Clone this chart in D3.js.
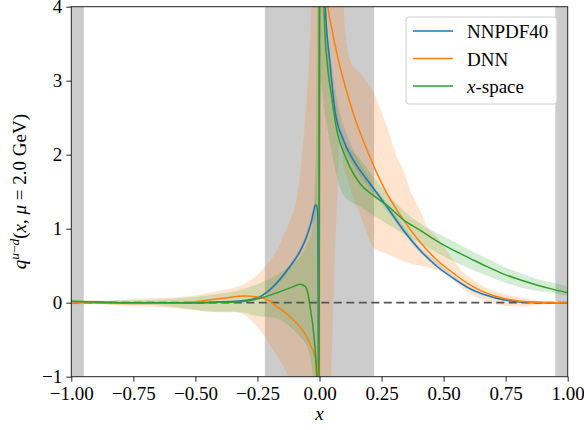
<!DOCTYPE html>
<html>
<head>
<meta charset="utf-8">
<script src="https://cdn.jsdelivr.net/npm/d3@7"></script>
<style>
  body { margin: 0; background: #fff; }
  svg text { font-family: "Liberation Serif", "Times New Roman", "DejaVu Serif", serif; fill: #000; }
</style>
</head>
<body>
<div id="chart"></div>
<script>
// grey excluded regions
const greyStart = [-1, -0.22, 0.95];
const greyEnd = [-0.95, 0.22, 1];

// NNPDF40 central line
const nnX = [-1, -0.9, -0.75, -0.6, -0.5, -0.4, -0.3, -0.24, -0.186, -0.119, -0.079, -0.052, -0.031, -0.018, -0.012, -0.007, -0.002,
  0.002, 0.012, 0.022, 0.042, 0.062, 0.096, 0.136, 0.203, 0.271, 0.338, 0.405, 0.47, 0.539, 0.606, 0.673, 0.74, 0.808, 0.875, 0.95, 1];
const nnY = [0.01, 0.005, 0.0, 0.0, 0.0, 0.01, 0.03, 0.08, 0.22, 0.49, 0.69, 0.89, 1.12, 1.31, 1.32, 1.2, -3,
  10, 5.5, 4.09, 3.25, 2.6, 2.2, 1.93, 1.61, 1.30, 0.98, 0.71, 0.5, 0.33, 0.19, 0.10, 0.04, 0.01, 0.0, 0.0, 0.0];

// NNPDF40 band
const nnBandX = [-1, -0.5, -0.3, -0.2, -0.12, -0.06, -0.03, -0.015, 0.015, 0.03, 0.05, 0.08, 0.12, 0.2, 0.3, 0.4, 0.5, 0.6, 0.7, 0.8, 0.9, 1];
const nnBandHi = [0.02, 0.01, 0.04, 0.2, 0.52, 0.88, 1.2, 1.4, 6, 3.8, 3.2, 2.6, 2.2, 1.68, 1.22, 0.77, 0.48, 0.22, 0.08, 0.02, 0.005, 0.0];
const nnBandLo = [0.0, -0.01, 0.02, 0.15, 0.46, 0.78, 1.05, 1.2, 5, 3.4, 2.85, 2.25, 1.95, 1.56, 1.12, 0.69, 0.42, 0.18, 0.06, 0.0, -0.005, 0.0];

// DNN central line
const dnnX = [-1, -0.9, -0.75, -0.6, -0.5, -0.45, -0.388, -0.3, -0.24, -0.2, -0.186, -0.15, -0.119, -0.08, -0.052, -0.03, -0.018, -0.01, -0.005, -0.001,
  0.001, 0.015, 0.031, 0.05, 0.076, 0.11, 0.136, 0.203, 0.271, 0.338, 0.405, 0.472, 0.539, 0.606, 0.673, 0.74, 0.808, 0.875, 0.95, 1];
const dnnY = [0.0, -0.005, -0.01, -0.005, 0.013, 0.035, 0.06, 0.09, 0.07, 0.02, -0.02, -0.1, -0.19, -0.32, -0.46, -0.62, -0.73, -0.85, -1.1, -4,
  12, 5.5, 4.09, 3.7, 3.28, 2.85, 2.56, 1.97, 1.48, 1.12, 0.82, 0.58, 0.40, 0.24, 0.13, 0.06, 0.02, 0.005, 0.0, 0.0];

// DNN band
const dnnBandX = [-1, -0.9, -0.75, -0.6, -0.5, -0.45, -0.4, -0.35, -0.3, -0.25, -0.22, -0.18, -0.159, -0.146, -0.12, -0.092, -0.07, -0.052, -0.04, -0.031, -0.015,
  0, 0.02, 0.046, 0.062, 0.073, 0.08, 0.086, 0.092, 0.096, 0.11, 0.123, 0.15, 0.176, 0.217, 0.257, 0.271, 0.311, 0.338, 0.365, 0.405, 0.432, 0.472, 0.5,
  0.539, 0.566, 0.606, 0.673, 0.74, 0.808, 0.875, 0.95, 1];
const dnnBandHi = [0.02, 0.02, 0.05, 0.07, 0.10, 0.13, 0.16, 0.2, 0.26, 0.38, 0.49, 0.66, 0.8, 0.9, 1.1, 1.39, 2.0, 2.74, 3.4, 4.2, 6,
  8, 8, 8, 8, 8, 8, 7, 5.5, 4.1, 3.5, 3.28, 3.15, 3.05, 2.85, 2.51, 2.38, 1.98, 1.79, 1.52, 1.25, 1.03, 0.89, 0.76,
  0.58, 0.46, 0.34, 0.2, 0.12, 0.07, 0.03, 0.01, 0.0];
const dnnBandLo = [-0.02, -0.02, -0.045, -0.07, -0.1, -0.12, -0.12, -0.12, -0.17, -0.33, -0.46, -0.68, -0.78, -0.86, -1.05, -1.5, -2, -2.5, -3, -3.5, -4,
  -4, -3, -1.1, 0.67, 1.57, 2.3, 2.4, 2.0, 1.85, 1.7, 1.55, 1.3, 1.08, 0.75, 0.68, 0.66, 0.6, 0.56, 0.53, 0.5, 0.48, 0.44, 0.40,
  0.30, 0.22, 0.12, 0.02, -0.04, -0.05, -0.03, -0.01, 0.0];

// x-space central line
const xsX = [-1, -0.9, -0.75, -0.6, -0.5, -0.4, -0.32, -0.24, -0.159, -0.11, -0.079, -0.058, -0.045, -0.038, -0.025, -0.014, -0.008, -0.003,
  0.002, 0.01, 0.02, 0.032, 0.047, 0.067, 0.11, 0.163, 0.217, 0.271, 0.338, 0.405, 0.47, 0.539, 0.606, 0.673, 0.74, 0.808, 0.875, 0.942, 1];
const xsY = [0.02, 0.01, 0.0, 0.0, 0.0, 0.005, 0.013, 0.06, 0.15, 0.21, 0.25, 0.22, 0.1, -0.05, -0.37, -0.82, -1.3, -4,
  12, 5.5, 3.8, 3.2, 2.83, 2.38, 1.93, 1.61, 1.45, 1.32, 1.12, 0.98, 0.84, 0.71, 0.6, 0.49, 0.39, 0.31, 0.24, 0.18, 0.135];

// x-space band
const xsBandX = [-1, -0.9, -0.75, -0.6, -0.5, -0.4, -0.32, -0.25, -0.186, -0.12, -0.079, -0.05, -0.03, -0.015, -0.005,
  0.005, 0.02, 0.04, 0.06, 0.083, 0.11, 0.163, 0.217, 0.271, 0.338, 0.405, 0.47, 0.539, 0.606, 0.673, 0.74, 0.808, 0.875, 0.942, 1];
const xsBandHi = [0.04, 0.03, 0.03, 0.05, 0.08, 0.12, 0.17, 0.25, 0.35, 0.5, 0.62, 0.8, 1.0, 2, 6,
  8, 4.5, 3.3, 2.8, 2.4, 2.15, 1.95, 1.7, 1.48, 1.25, 1.07, 0.95, 0.83, 0.71, 0.6, 0.49, 0.4, 0.32, 0.27, 0.22];
const xsBandLo = [0.0, -0.01, -0.02, -0.05, -0.1, -0.13, -0.13, -0.18, -0.2, -0.32, -0.46, -0.6, -0.9, -1.5, -4,
  3.0, 2.6, 2.2, 1.85, 1.55, 1.4, 1.3, 1.18, 1.07, 0.93, 0.8, 0.68, 0.56, 0.46, 0.37, 0.28, 0.21, 0.16, 0.13, 0.09];

const xTicks = [-1, -0.75, -0.5, -0.25, 0, 0.25, 0.5, 0.75, 1];
const yTicks = [-1, 0, 1, 2, 3, 4];

const seriesNames = ["NNPDF40", "DNN", "x-space"];
const colors = ["#1f77b4", "#ff7f0e", "#2ca02c"];

const width = 584, height = 430;
const margin = { top: 6.7, right: 16.3, bottom: 53.3, left: 71.3 };

const svg = d3.select("#chart").append("svg")
  .attr("width", width).attr("height", height);

const x = d3.scaleLinear().domain([-1, 1]).range([margin.left, width - margin.right]);
const y = d3.scaleLinear().domain([-1, 4]).range([height - margin.bottom, margin.top]);

svg.append("clipPath").attr("id", "plot")
  .append("rect")
  .attr("x", margin.left).attr("y", margin.top)
  .attr("width", x(1) - x(-1)).attr("height", y(-1) - y(4));

const g = svg.append("g").attr("clip-path", "url(#plot)");

// grey spans
g.selectAll(".span")
  .data(greyStart)
  .join("rect")
  .attr("class", "span")
  .attr("x", d => x(d))
  .attr("width", (d, i) => x(greyEnd[i]) - x(d))
  .attr("y", y(4))
  .attr("height", y(-1) - y(4))
  .attr("fill", "#808080")
  .attr("fill-opacity", 0.4);

const area = d3.area()
  .x(d => x(d[0]))
  .y0(d => y(d[1]))
  .y1(d => y(d[2]))
  .curve(d3.curveMonotoneX);

const line = d3.line()
  .x(d => x(d[0]))
  .y(d => y(d[1]))
  .curve(d3.curveMonotoneX);

const bands = [
  [nnBandX, nnBandLo, nnBandHi],
  [dnnBandX, dnnBandLo, dnnBandHi],
  [xsBandX, xsBandLo, xsBandHi]
];
bands.forEach((b, i) => {
  g.append("path")
    .datum(b[0].map((v, j) => [v, b[1][j], b[2][j]]))
    .attr("d", area)
    .attr("fill", colors[i])
    .attr("fill-opacity", 0.2);
});

// zero line
g.append("line")
  .attr("x1", x(-1)).attr("x2", x(1))
  .attr("y1", y(0)).attr("y2", y(0))
  .attr("stroke", "#555")
  .attr("stroke-width", 1.8)
  .attr("stroke-dasharray", "8,4.5");

const lines = [[nnX, nnY], [dnnX, dnnY], [xsX, xsY]];
lines.forEach((l, i) => {
  g.append("path")
    .datum(l[0].map((v, j) => [v, l[1][j]]))
    .attr("d", line)
    .attr("fill", "none")
    .attr("stroke", colors[i])
    .attr("stroke-width", 1.5);
});

// axes
const fs = 19;
const xAxis = svg.append("g")
  .attr("transform", `translate(0,${y(-1)})`)
  .call(d3.axisBottom(x).tickValues(xTicks).tickFormat(d3.format(".2f")).tickSize(5).tickPadding(5));
const yAxis = svg.append("g")
  .attr("transform", `translate(${x(-1)},0)`)
  .call(d3.axisLeft(y).tickValues(yTicks).tickFormat(d3.format("d")).tickSize(5).tickPadding(4));
[xAxis, yAxis].forEach(a => {
  a.select(".domain").remove();
  a.selectAll("line").attr("stroke", "#222");
  a.selectAll("text").attr("font-size", fs).attr("font-family", null);
});

// frame
svg.append("rect")
  .attr("x", x(-1)).attr("y", y(4))
  .attr("width", x(1) - x(-1)).attr("height", y(-1) - y(4))
  .attr("fill", "none").attr("stroke", "#222").attr("stroke-width", 1);

// x label
svg.append("text")
  .attr("x", x(0)).attr("y", 420)
  .attr("text-anchor", "middle")
  .attr("font-size", fs)
  .attr("font-style", "italic")
  .text("x");

// y label
const yl = svg.append("text")
  .attr("transform", `translate(26,${(y(-1) + y(4)) / 2}) rotate(-90)`)
  .attr("text-anchor", "middle")
  .attr("font-size", fs);
yl.append("tspan").attr("font-style", "italic").text("q");
yl.append("tspan").attr("font-style", "italic").attr("font-size", 13.5).attr("dy", -7).text("u");
yl.append("tspan").attr("font-size", 13.5).text("−");
yl.append("tspan").attr("font-style", "italic").attr("font-size", 13.5).text("d");
yl.append("tspan").attr("dy", 7).text("(");
yl.append("tspan").attr("font-style", "italic").text("x");
yl.append("tspan").text(", ");
yl.append("tspan").attr("font-style", "italic").text("μ");
yl.append("tspan").text(" = 2.0 GeV)");

// legend
const leg = svg.append("g");
leg.append("rect")
  .attr("x", 406).attr("y", 17)
  .attr("width", 151).attr("height", 87)
  .attr("rx", 3)
  .attr("fill", "#fff").attr("fill-opacity", 0.8)
  .attr("stroke", "#d0d0d0");
seriesNames.forEach((name, i) => {
  const ly = 31 + i * 27.5;
  leg.append("line")
    .attr("x1", 413).attr("x2", 453)
    .attr("y1", ly).attr("y2", ly)
    .attr("stroke", colors[i]).attr("stroke-width", 1.5);
  const t = leg.append("text")
    .attr("x", 467).attr("y", ly + 7)
    .attr("font-size", fs);
  if (name === "x-space") {
    t.append("tspan").attr("font-style", "italic").text("x");
    t.append("tspan").text("-space");
  } else {
    t.text(name);
  }
});
</script>
</body>
</html>
